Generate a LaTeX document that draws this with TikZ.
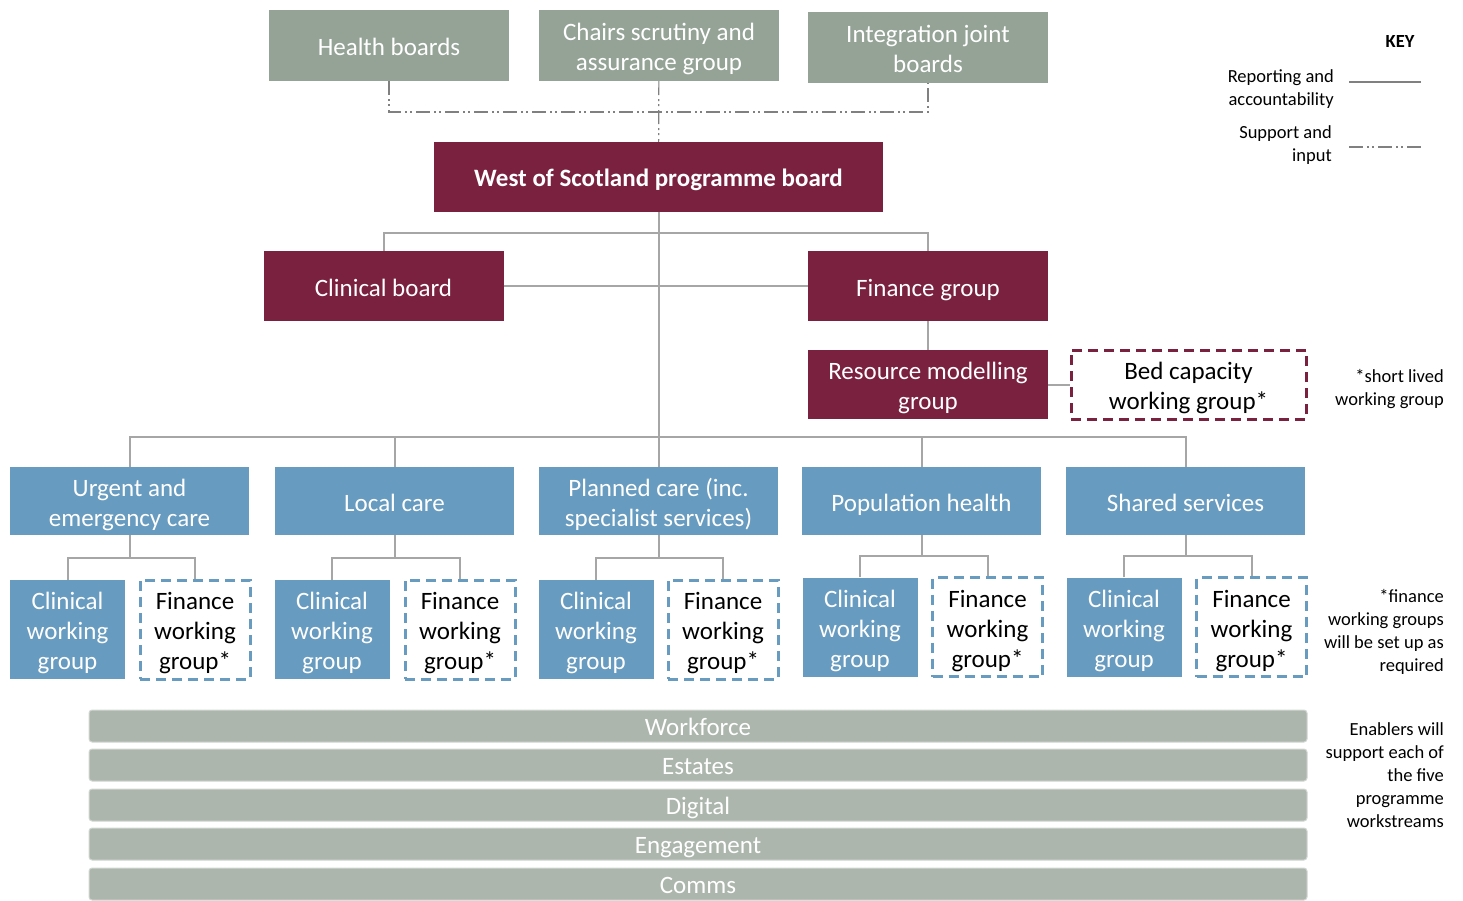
\documentclass[tikz,border=0pt]{standalone}
\usepackage{fontspec}
\setmainfont{Carlito}
\usepackage{tikz}

\definecolor{boardgrey}{HTML}{95A397}
\definecolor{wosred}{HTML}{7A2140}
\definecolor{streamblue}{HTML}{679BBF}
\definecolor{enablegrey}{HTML}{ACB6AD}
\definecolor{linkgrey}{HTML}{A6A6A6}

\begin{document}
\begin{tikzpicture}[x=1pt,y=-1pt,
  every node/.style={inner sep=0pt, align=center, font=\fontsize{25}{30}\selectfont},
  oneline/.style={text height=20, text depth=0},
  twoline/.style={text height=50, text depth=0},
  threeline/.style={text height=80, text depth=0},
  topbox/.style={fill=boardgrey, text=white, minimum width=240, minimum height=71},
  redbox/.style={fill=wosred, text=white, minimum width=240, minimum height=70},
  bedbox/.style={draw=wosred, line width=3, dash pattern=on 10pt off 6pt, minimum width=235, minimum height=69},
  bluebox/.style={fill=streamblue, text=white, minimum width=239, minimum height=68},
  cwgbox/.style={fill=streamblue, text=white, minimum width=115, minimum height=99, threeline},
  fwgbox/.style={draw=streamblue, line width=3, dash pattern=on 10pt off 6pt, minimum width=110, minimum height=99, threeline},
  enabler/.style={fill=enablegrey, draw=enablegrey!55, line width=1, rounded corners=3, text=white, minimum width=1218, minimum height=32, text height=19, text depth=0},
  keytext/.style={align=right, font=\fontsize{18.5}{23}\selectfont},
  link/.style={draw=linkgrey, line width=2},
  keyline/.style={draw=gray, line width=1.2},
  support/.style={draw=gray, line width=1.2, dash pattern=on 14pt off 4pt on 2pt off 3pt on 2pt off 4pt}]
\useasboundingbox (0,0) rectangle (1463,901);

% governance
\node[topbox, oneline] (11) at (389,45.5) {Health boards};
\node[topbox, twoline] (12) at (659,45.5) {Chairs scrutiny and\\assurance group};
\node[topbox, twoline] (13) at (928,47.5) {Integration joint\\boards};

\node[redbox, oneline, minimum width=449, font=\bfseries\fontsize{25}{30}\selectfont] (21) at (658.5,177) {West of Scotland programme board};

\node[redbox, oneline] (31) at (383.5,286) {Clinical board};
\node[redbox, oneline] (32) at (928,286) {Finance group};

\node[redbox, twoline, minimum height=69] (41) at (928,384.5) {Resource modelling\\group};
\node[bedbox, twoline] (42) at (1188.5,384.5) {Bed capacity\\working group*};

% workstreams
\node[bluebox, twoline] (51) at (129.5,501) {Urgent and\\emergency care};
\node[bluebox, oneline] (52) at (394.5,501) {Local care};
\node[bluebox, twoline] (53) at (658.5,501) {Planned care (inc.\\specialist services)};
\node[bluebox, oneline] (54) at (921.5,501) {Population health};
\node[bluebox, oneline] (55) at (1185.5,501) {Shared services};

\node[cwgbox] (61) at (67.5,629.5) {Clinical\\working\\group};
\node[cwgbox] (62) at (332,629.5) {Clinical\\working\\group};
\node[cwgbox] (63) at (596,629.5) {Clinical\\working\\group};
\node[cwgbox] (64) at (860,627) {Clinical\\working\\group};
\node[cwgbox] (65) at (1124,627) {Clinical\\working\\group};

\node[fwgbox] (71) at (195,629.5) {Finance\\working\\group*};
\node[fwgbox] (72) at (460,629.5) {Finance\\working\\group*};
\node[fwgbox] (73) at (723,629.5) {Finance\\working\\group*};
\node[fwgbox] (74) at (987.5,627) {Finance\\working\\group*};
\node[fwgbox] (75) at (1251.5,627) {Finance\\working\\group*};

% enablers
\node[enabler] (81) at (698,726) {Workforce};
\node[enabler] (82) at (698,765) {Estates};
\node[enabler] (83) at (698,805) {Digital};
\node[enabler] (84) at (698,844) {Engagement};
\node[enabler] (85) at (698,884) {Comms};

% key and notes
\node[keytext, font=\bfseries\fontsize{18.5}{23}\selectfont] (90) at (1400,42) {KEY};
\node[keytext, anchor=east] (91) at (1334,89) {Reporting and\\accountability};
\node[keytext, anchor=east] (92) at (1332,145) {Support and\\input};
\node[keytext, anchor=east] (93) at (1444,389) {*short lived\\working group};
\node[keytext, anchor=east] (94) at (1444,632) {*finance\\working groups\\will be set up as\\required};
\node[keytext, anchor=east] (95) at (1444,775) {Enablers will\\support each of\\the five\\programme\\workstreams};

\coordinate (k1) at (1349,82);
\coordinate (k2) at (1421,82);
\coordinate (k3) at (1349,147);
\coordinate (k4) at (1421,147);
\draw[keyline] (k1) -- (k2);
\draw[support] (k3) -- (k4);

% connectors
\coordinate (s0) at (658.5,112);
\coordinate (b1) at (658.5,233);
\coordinate (b2) at (658.5,437);
\draw[support] (11) |- (s0) -| (13);
\draw[support] (12) -- (21);

\draw[link] (31) |- (b1) -| (32);
\draw[link] (31) -- (32);
\draw[link] (21) -- (b2);
\draw[link] (32) -- (41);
\draw[link] (41) -- (42);
\draw[link] (51) |- (b2) -| (55);
\draw[link] (52) -- (52 |- b2);
\draw[link] (53) -- (b2);
\draw[link] (54) -- (54 |- b2);

\coordinate (c1) at (129.5,558);
\coordinate (c2) at (394.5,558);
\coordinate (c3) at (658.5,558);
\coordinate (c4) at (921.5,556);
\coordinate (c5) at (1185.5,556);
\draw[link] (51) -- (c1);
\draw[link] (52) -- (c2);
\draw[link] (53) -- (c3);
\draw[link] (54) -- (c4);
\draw[link] (55) -- (c5);
\draw[link] (61) |- (c1) -| (71);
\draw[link] (62) |- (c2) -| (72);
\draw[link] (63) |- (c3) -| (73);
\draw[link] (64) |- (c4) -| (74);
\draw[link] (65) |- (c5) -| (75);
\end{tikzpicture}
\end{document}
